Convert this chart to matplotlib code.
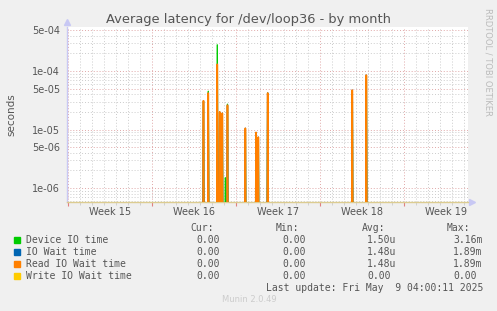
import numpy as np
import matplotlib
matplotlib.use("Agg")
import matplotlib.pyplot as plt
from matplotlib.ticker import FixedLocator, NullFormatter, FixedFormatter

W, H = 497, 311

# spike times in days (0 = start of week 15), values in seconds
spike_days = [11.29, 11.69, 12.44, 12.64, 12.86, 13.11, 13.29, 14.78, 15.67, 15.86, 16.64, 23.69, 24.86]
device_io = [3.0e-5, 4.5e-5, 2.8e-4, 1.5e-5, 1.2e-5, 1.5e-6, 2.7e-5, 9.0e-6, 8.0e-6, 6.0e-6, 4.2e-5, 4.0e-5, 8.0e-5]
io_wait = [3.1e-5, 4.2e-5, 1.3e-4, 2.0e-5, 1.9e-5, 0.0, 2.6e-5, 1.05e-5, 8.9e-6, 7.4e-6, 4.2e-5, 4.7e-5, 8.5e-5]
read_wait = [3.1e-5, 4.2e-5, 1.3e-4, 2.0e-5, 1.9e-5, 0.0, 2.6e-5, 1.05e-5, 8.9e-6, 7.4e-6, 4.2e-5, 4.7e-5, 8.5e-5]
write_wait = [0.0] * len(spike_days)

week_labels = ["Week 15", "Week 16", "Week 17", "Week 18", "Week 19"]

leg_names = ["Device IO time", "IO Wait time", "Read IO Wait time", "Write IO Wait time"]
leg_colors = ["#00cc00", "#0066b3", "#ff8000", "#ffcc00"]
leg_cur = ["0.00", "0.00", "0.00", "0.00"]
leg_min = ["0.00", "0.00", "0.00", "0.00"]
leg_avg = ["1.50u", "1.48u", "1.48u", "0.00"]
leg_max = ["3.16m", "1.89m", "1.89m", "0.00"]

step = 1 / 12.0  # 2 hour resolution
floor = 1e-9


def series(days, vals):
    xs, ys = [-1.0], [floor]
    for d, v in zip(days, vals):
        xs += [d - step, d, d + step]
        ys += [floor, v if v > 0 else floor, floor]
    xs.append(40.0)
    ys.append(floor)
    return np.array(xs), np.array(ys)


fig = plt.figure(figsize=(W / 100, H / 100), dpi=100, facecolor="#f0f0f0")
ax = fig.add_axes([67 / W, 1 - 202 / H, (468 - 67) / W, (202 - 27) / H])
ax.set_facecolor("white")
ax.set_yscale("log")
ax.set_xlim(-0.08, 33.33)
ax.set_ylim(5.77e-7, 5.65e-4)

# grid
dot = (0, (1, 2))
for d in range(0, 34):
    c = "#e0a8a8" if d % 7 == 0 else "#cccccc"
    ax.axvline(d, color=c, lw=0.7, ls=dot, zorder=1)
for e in range(-7, -3):
    for m in range(1, 10):
        v = m * 10.0 ** e
        c = "#e0a8a8" if m in (1, 5) else "#cccccc"
        ax.axhline(v, color=c, lw=0.7, ls=dot, zorder=1)

widths = [1.0, 1.0, 1.2, 1.0]
for vals, col, lw in zip([device_io, io_wait, read_wait, write_wait], leg_colors, widths):
    xs, ys = series(spike_days, vals)
    ax.plot(xs, ys, color=col, lw=lw, zorder=3)

# axes styling
for s in ["top", "right"]:
    ax.spines[s].set_visible(False)
ax.spines["left"].set_color("#c8c8f4")
ax.spines["bottom"].set_color("#dccc90")
ax.spines["left"].set_linewidth(1.0)
ax.spines["bottom"].set_linewidth(1.0)

yt = [1e-6, 5e-6, 1e-5, 5e-5, 1e-4, 5e-4]
ax.yaxis.set_major_locator(FixedLocator(yt))
ax.yaxis.set_major_formatter(FixedFormatter(["%.0e" % v for v in yt]))
ax.yaxis.set_minor_locator(FixedLocator([]))
ax.yaxis.set_minor_formatter(NullFormatter())
ax.tick_params(axis="y", length=0, pad=5, labelsize=7, labelcolor="#555555")

ax.xaxis.set_major_locator(FixedLocator([0, 7, 14, 21, 28]))
ax.xaxis.set_major_formatter(NullFormatter())
ax.xaxis.set_minor_locator(FixedLocator(range(0, 34)))
ax.tick_params(axis="x", which="major", length=3, color="#e08080", width=0.8)
ax.tick_params(axis="x", which="minor", length=2, color="#cccccc", width=0.6)
for i, lab in enumerate(week_labels):
    ax.text(3.5 + 7 * i, -0.03, lab, transform=ax.get_xaxis_transform(),
            ha="center", va="top", fontsize=7, color="#555555")

# axis arrows
ax.plot([0], [1.03], marker="^", ms=4, color="#c8c8f4", transform=ax.transAxes, clip_on=False)
ax.plot([1.01], [0], marker=">", ms=4, color="#c8c8f4", transform=ax.transAxes, clip_on=False)

ax.set_ylabel("seconds", fontsize=7.5, color="#555555")
ax.yaxis.set_label_coords(-(67 - 16) / (468 - 67), 0.5)


def ftext(x, y, s, **kw):
    fig.text(x / W, 1 - y / H, s, **kw)


ftext(248, 19, "Average latency for /dev/loop36 - by month", ha="center", va="center",
      fontsize=9.4, color="#555555")
ftext(488, 62, "RRDTOOL / TOBI OETIKER", ha="center", va="center", rotation=270,
      fontsize=6, color="#bbbbbb")

mono = dict(family="DejaVu Sans Mono", fontsize=7, color="#555555", va="center")
ftext(190, 227.7, "Cur:", **mono)
ftext(276, 227.7, "Min:", **mono)
ftext(362, 227.7, "Avg:", **mono)
ftext(447, 227.7, "Max:", **mono)
rows = [240, 251.7, 263.7, 275.7]
for i in range(4):
    y = rows[i]
    fig.patches.append(plt.Rectangle((14 / W, 1 - (y + 3) / H), 6 / W, 6 / H,
                                     transform=fig.transFigure, color=leg_colors[i]))
    ftext(26, y, leg_names[i], **mono)
    ftext(196, y, leg_cur[i], **mono)
    ftext(282, y, leg_min[i], **mono)
    ftext(367, y, leg_avg[i], **mono)
    ftext(453, y, leg_max[i], **mono)
ftext(483, 287.7, "Last update: Fri May  9 04:00:11 2025", ha="right", **mono)
ftext(249, 299.5, "Munin 2.0.49", ha="center", va="center", fontsize=6, color="#cccccc")

fig.savefig("out.png", dpi=100, facecolor=fig.get_facecolor())
